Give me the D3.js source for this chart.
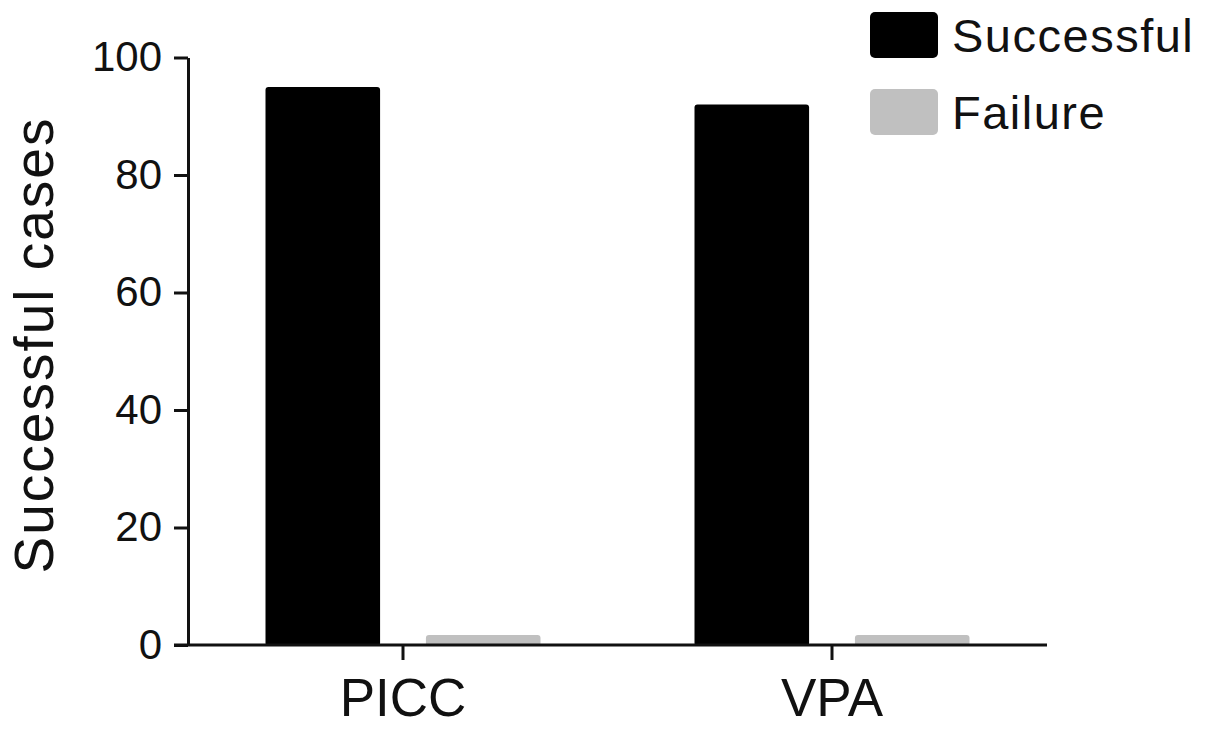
<!DOCTYPE html>
<html>
<head>
<meta charset="utf-8">
<script src="https://cdn.jsdelivr.net/npm/d3@7"></script>
<style>
  body { margin: 0; background: #fff; }
  svg { display: block; font-family: "Liberation Sans", Arial, sans-serif; }
</style>
</head>
<body>
<svg width="1205" height="730"></svg>
<script>
const groups = ['PICC', 'VPA'];
const seriesNames = ['Successful', 'Failure'];
const successValues = [95, 92];
const failureValues = [1.7, 1.7];
const yTickValues = [0, 20, 40, 60, 80, 100];
const colors = ['#000000', '#c0c0c0'];

const svg = d3.select('svg');

const x0 = d3.scaleBand()
    .domain(groups)
    .range([188.5, 1046.5])
    .padding(0);

const x1 = d3.scaleBand()
    .domain(seriesNames)
    .range([0, x0.bandwidth()])
    .paddingInner(0.2857)
    .paddingOuter(0.48);

const y = d3.scaleLinear()
    .domain([0, 100])
    .range([645, 57.5]);

const color = d3.scaleOrdinal().domain(seriesNames).range(colors);

const rows = groups.map((g, i) => ({
    group: g,
    values: [
        { key: 'Successful', value: successValues[i] },
        { key: 'Failure', value: failureValues[i] }
    ]
}));

// bars
const gBars = svg.append('g');
gBars.selectAll('g')
    .data(rows)
    .join('g')
    .attr('transform', d => `translate(${x0(d.group)},0)`)
    .selectAll('rect')
    .data(d => d.values)
    .join('rect')
    .attr('x', d => x1(d.key))
    .attr('width', x1.bandwidth())
    .attr('y', d => y(d.value))
    .attr('height', d => y(0) - y(d.value) + 1)
    .attr('rx', 3)
    .attr('fill', d => color(d.key));

// y axis
const yAxisG = svg.append('g')
    .attr('transform', 'translate(188,0)')
    .call(d3.axisLeft(y)
        .tickValues(yTickValues)
        .tickSize(14)
        .tickSizeOuter(0)
        .tickPadding(12));
yAxisG.select('.domain').attr('stroke', '#111').attr('stroke-width', 3);
yAxisG.selectAll('.tick line').attr('stroke', '#111').attr('stroke-width', 3);
yAxisG.selectAll('.tick text')
    .attr('font-size', 42)
    .attr('fill', '#111')
    .attr('font-family', '"Liberation Sans", Arial, sans-serif');

// x axis
const xAxisG = svg.append('g')
    .attr('transform', 'translate(0,645)')
    .call(d3.axisBottom(x0)
        .tickSize(15)
        .tickSizeOuter(0)
        .tickPadding(18));
xAxisG.select('.domain').remove();
xAxisG.append('line')
    .attr('x1', 174)
    .attr('x2', 1047)
    .attr('stroke', '#111')
    .attr('stroke-width', 3);
xAxisG.selectAll('.tick line').attr('stroke', '#111').attr('stroke-width', 3);
xAxisG.selectAll('.tick text')
    .attr('font-size', 53)
    .attr('fill', '#111')
    .attr('font-family', '"Liberation Sans", Arial, sans-serif');

// y label
svg.append('text')
    .attr('transform', 'translate(53,345) rotate(-90)')
    .attr('text-anchor', 'middle')
    .attr('font-size', 55)
    .attr('letter-spacing', 2)
    .attr('fill', '#111')
    .text('Successful cases');

// legend
const legend = svg.append('g')
    .selectAll('g')
    .data(seriesNames)
    .join('g')
    .attr('transform', (d, i) => `translate(870,${12 + i * 77})`);
legend.append('rect')
    .attr('width', 68)
    .attr('height', 46)
    .attr('rx', 5)
    .attr('fill', d => color(d));
legend.append('text')
    .attr('x', 82)
    .attr('y', 23)
    .attr('dy', '0.36em')
    .attr('font-size', 47)
    .attr('letter-spacing', 1.5)
    .attr('fill', '#111')
    .text(d => d);
</script>
</body>
</html>
